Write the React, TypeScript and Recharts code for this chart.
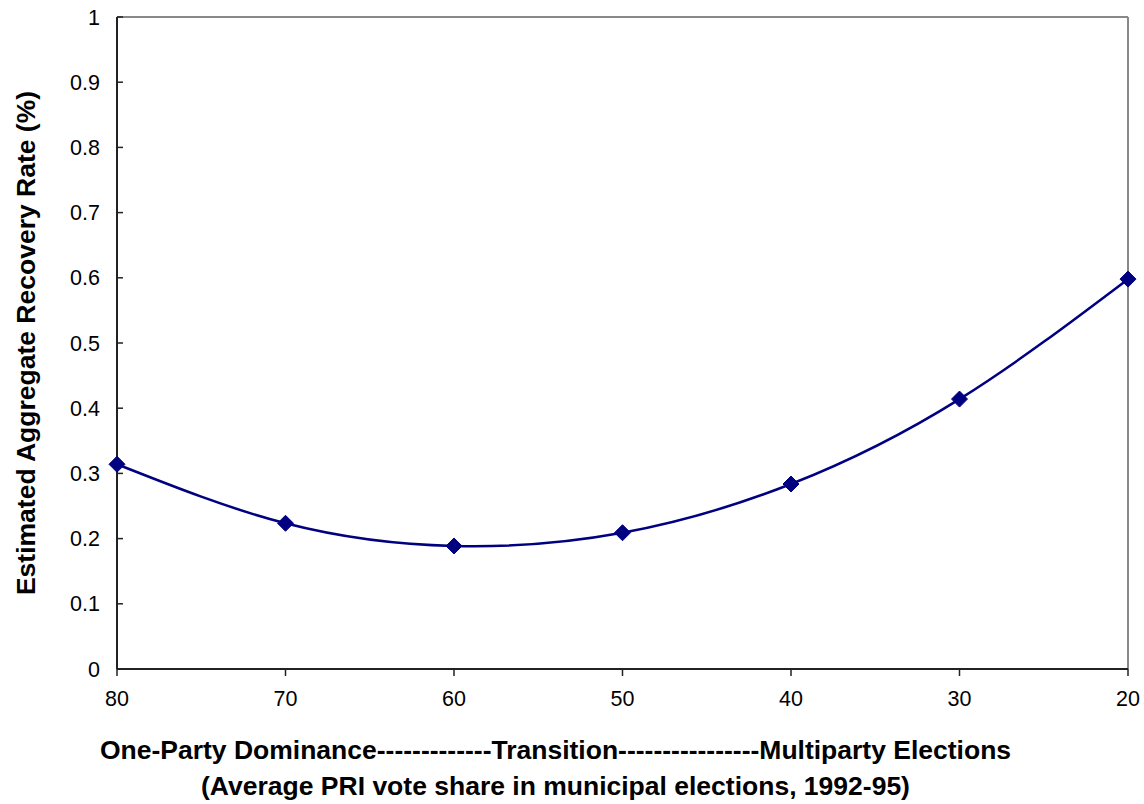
import React from 'react';
import { LineChart, Line, XAxis, YAxis, ReferenceLine } from 'recharts';

const priShare = [80, 70, 60, 50, 40, 30, 20];
const recoveryRate = [0.314, 0.2235, 0.1887, 0.209, 0.2837, 0.414, 0.598];
const xTicks = [80, 70, 60, 50, 40, 30, 20];
const yTicks = [0, 0.1, 0.2, 0.3, 0.4, 0.5, 0.6, 0.7, 0.8, 0.9, 1];
const yTickLabels = ['0', '0.1', '0.2', '0.3', '0.4', '0.5', '0.6', '0.7', '0.8', '0.9', '1'];
const xTitleLine1 = 'One-Party Dominance-------------Transition----------------Multiparty Elections';
const xTitleLine2 = '(Average PRI vote share in municipal elections, 1992-95)';
const yTitle = 'Estimated Aggregate Recovery Rate (%)';

const data = priShare.map((x, i) => ({ x, y: recoveryRate[i] }));

const FONT = '"Liberation Sans", Arial, sans-serif';

const Diamond = (props: any) => {
  const { cx, cy, index } = props;
  if (cx == null || cy == null) return null;
  const r = 8;
  return (
    <path
      key={`d-${index}`}
      d={`M${cx},${cy - r}L${cx + r},${cy}L${cx},${cy + r}L${cx - r},${cy}Z`}
      fill="#000080"
      stroke="#000080"
      strokeWidth={1}
    />
  );
};

const XTitle = (props: any) => {
  const vb = props.viewBox || {};
  const cx = vb.x + vb.width / 2 - 67;
  return (
    <g>
      <text x={cx} y={vb.y + 90} textAnchor="middle" fontFamily={FONT} fontWeight="bold" fontSize={26.5} fill="#000">
        {xTitleLine1}
      </text>
      <text x={cx} y={vb.y + 126} textAnchor="middle" fontFamily={FONT} fontWeight="bold" fontSize={26.5} fill="#000">
        {xTitleLine2}
      </text>
    </g>
  );
};

const YTitle = (props: any) => {
  const vb = props.viewBox || {};
  const cy = vb.y + vb.height / 2;
  const x = 35;
  return (
    <text
      x={x}
      y={cy}
      transform={`rotate(-90, ${x}, ${cy})`}
      textAnchor="middle"
      fontFamily={FONT}
      fontWeight="bold"
      fontSize={26.5}
      fill="#000"
    >
      {yTitle}
    </text>
  );
};

export default function App() {
  return (
    <div style={{ position: 'absolute', left: 0, top: 0, width: 1144, height: 804, background: '#fff' }}>
      <LineChart width={1144} height={804} data={data} margin={{ top: 17, right: 16, bottom: 0, left: 0 }}>
        <XAxis
          dataKey="x"
          type="number"
          domain={[20, 80]}
          reversed
          ticks={xTicks}
          interval={0}
          height={135}
          tickSize={7}
          tickMargin={15}
          axisLine={{ stroke: '#222', strokeWidth: 2 }}
          tickLine={{ stroke: '#222', strokeWidth: 1.5 }}
          tick={{ fontFamily: FONT, fontSize: 21.5, fill: '#000' }}
          label={{ content: XTitle }}
        />
        <YAxis
          type="number"
          domain={[0, 1]}
          ticks={yTicks}
          interval={0}
          width={117}
          tickSize={-6}
          tickMargin={23}
          tickFormatter={(v: number) => yTickLabels[yTicks.indexOf(v)] ?? String(v)}
          axisLine={{ stroke: '#222', strokeWidth: 2 }}
          tickLine={{ stroke: '#222', strokeWidth: 1.5 }}
          tick={{ fontFamily: FONT, fontSize: 21.5, fill: '#000' }}
          label={{ content: YTitle }}
        />
        <ReferenceLine y={1} stroke="#888" strokeWidth={2} ifOverflow="visible" />
        <ReferenceLine x={20} stroke="#888" strokeWidth={2} ifOverflow="visible" />
        <Line
          dataKey="y"
          type="natural"
          stroke="#000080"
          strokeWidth={2.5}
          dot={Diamond}
          activeDot={false}
          isAnimationActive={false}
        />
      </LineChart>
    </div>
  );
}
